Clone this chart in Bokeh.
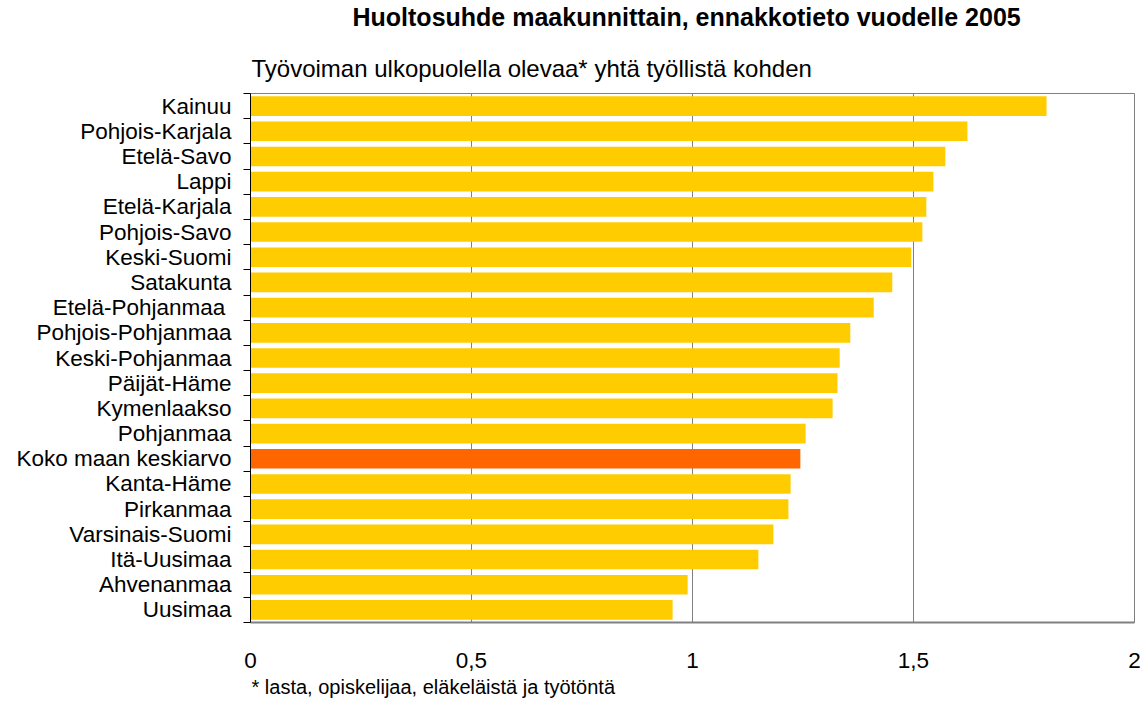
from bokeh.plotting import figure
from bokeh.models import Range1d, FixedTicker, Title, ColumnDataSource
from bokeh.embed import file_html
from bokeh.resources import INLINE

# Data (top to bottom as shown)
regions = ["Kainuu", "Pohjois-Karjala", "Etelä-Savo", "Lappi", "Etelä-Karjala",
           "Pohjois-Savo", "Keski-Suomi", "Satakunta", "Etelä-Pohjanmaa ",
           "Pohjois-Pohjanmaa", "Keski-Pohjanmaa", "Päijät-Häme", "Kymenlaakso",
           "Pohjanmaa", "Koko maan keskiarvo", "Kanta-Häme", "Pirkanmaa",
           "Varsinais-Suomi", "Itä-Uusimaa", "Ahvenanmaa", "Uusimaa"]
ratios = [1.801, 1.622, 1.572, 1.545, 1.529, 1.520, 1.495, 1.452, 1.410,
          1.357, 1.333, 1.328, 1.317, 1.256, 1.244, 1.222, 1.217, 1.183,
          1.149, 0.989, 0.955]
highlight = "Koko maan keskiarvo"
x_ticks = [0, 0.5, 1, 1.5, 2]
x_tick_labels = ["0", "0,5", "1", "1,5", "2"]

title_text = "Huoltosuhde maakunnittain, ennakkotieto vuodelle 2005"
subtitle_text = "Työvoiman ulkopuolella olevaa* yhtä työllistä kohden"
footnote_text = "* lasta, opiskelijaa, eläkeläistä ja työtöntä"

FONT = "Liberation Sans"
YELLOW = "#FFCC00"
ORANGE = "#FF6600"
GRID = "#808080"

n = len(regions)
ypos = [n - i - 0.5 for i in range(n)]
colors = [ORANGE if r == highlight else YELLOW for r in regions]
src = ColumnDataSource(dict(y=ypos, x=ratios, c=colors, name=regions))

p = figure(width=1146, height=700, output_backend="svg", toolbar_location=None,
           x_range=Range1d(0, 2), y_range=Range1d(0, n),
           min_border_left=250, min_border_right=12, min_border_top=93,
           min_border_bottom=77)
p.background_fill_color = "white"
p.border_fill_color = "white"
p.outline_line_color = GRID
p.outline_line_width = 1

p.hbar(y="y", right="x", left=0, height=0.78, fill_color="c", line_color=None, source=src)

# x axis
xa = p.xaxis[0]
xa.ticker = FixedTicker(ticks=x_ticks)
xa.major_label_overrides = {t: l for t, l in zip(x_ticks, x_tick_labels)}
xa.major_tick_line_color = None
xa.major_tick_out = 0
xa.major_tick_in = 0
xa.minor_tick_line_color = None
xa.axis_line_color = GRID
xa.axis_line_width = 2
xa.major_label_standoff = 30
xa.major_label_text_font = FONT
xa.major_label_text_font_size = "22.5px"
xa.major_label_text_color = "black"

# y axis: labels at centres, small ticks at category boundaries
ya = p.yaxis[0]
ya.ticker = FixedTicker(ticks=ypos, minor_ticks=list(range(n + 1)))
ya.major_label_overrides = {y: r for y, r in zip(ypos, regions)}
ya.major_tick_line_color = None
ya.major_tick_out = 0
ya.major_tick_in = 0
ya.minor_tick_line_color = "black"
ya.minor_tick_out = 7
ya.minor_tick_in = 0
ya.axis_line_color = "black"
ya.axis_line_width = 1
ya.major_label_standoff = 12
ya.major_label_text_font = FONT
ya.major_label_text_font_size = "22.5px"
ya.major_label_text_color = "black"

# grid
p.xgrid.ticker = FixedTicker(ticks=x_ticks)
p.xgrid.grid_line_color = GRID
p.xgrid.grid_line_width = 1
p.ygrid.grid_line_color = None

# titles (first added sits closest to the plot)
sub = Title(text=subtitle_text, align="left", text_font=FONT, text_font_size="24px",
            text_font_style="normal", text_color="black", standoff=23, offset=1)
p.add_layout(sub, "above")
spacer = Title(text=" ", align="left", text_font=FONT, text_font_size="1px",
               text_color="white", standoff=8)
p.add_layout(spacer, "above")
main = Title(text=title_text, align="left", text_font=FONT, text_font_size="25px",
             text_font_style="bold", text_color="black", standoff=0, offset=102)
p.add_layout(main, "above")
foot = Title(text=footnote_text, align="left", text_font=FONT, text_font_size="20px",
             text_font_style="normal", text_color="black", standoff=6, offset=1)
p.add_layout(foot, "below")

open("out.html", "w").write(file_html(p, INLINE))
